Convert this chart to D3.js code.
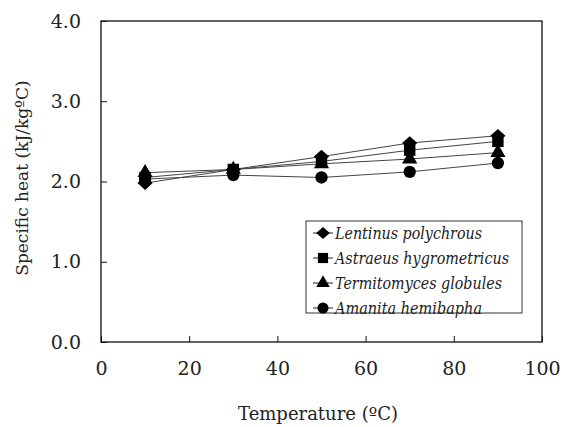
<!DOCTYPE html>
<html lang="en">
<head>
    <meta charset="UTF-8">
    <title>Specific heat vs temperature</title>
    <script src="https://d3js.org/d3.v7.min.js"></script>
    <style>
        html, body {
            margin: 0;
            background: #fff;
        }
        text {
            font-family: "DejaVu Serif", serif;
            fill: #222;
        }
    </style>
</head>
<body>
    <div id="vis"></div>
    <script>
        // data
        var temps = [10, 30, 50, 70, 90];
        var seriesNames = ["Lentinus polychrous", "Astraeus hygrometricus", "Termitomyces globules", "Amanita hemibapha"];
        var lentinus = [1.98, 2.15, 2.31, 2.48, 2.57];
        var astraeus = [2.05, 2.15, 2.25, 2.39, 2.50];
        var termitomyces = [2.11, 2.15, 2.22, 2.28, 2.36];
        var amanita = [2.03, 2.08, 2.05, 2.12, 2.23];
        var xTicks = [0, 20, 40, 60, 80, 100];
        var yTicks = [0, 1, 2, 3, 4];

        var seriesValues = [lentinus, astraeus, termitomyces, amanita];

        // flat diamond (wider than tall), as in the original
        var flatDiamond = {
            draw: function(ctx, size) {
                var h = Math.sqrt(size) * 0.62, w = h * 1.12;
                ctx.moveTo(0, -h);
                ctx.lineTo(w, 0);
                ctx.lineTo(0, h);
                ctx.lineTo(-w, 0);
                ctx.closePath();
            }
        };
        var symbols = [flatDiamond, d3.symbolSquare, d3.symbolTriangle, d3.symbolCircle];
        var symbolSizes = [120, 130, 100, 120];
        var legendWidths = [147, 174, 167, 147];

        var width = 563, height = 427;
        var margin = {top: 21, right: 21, bottom: 85, left: 101};

        var svg = d3.select("#vis").append("svg")
            .attr("width", width)
            .attr("height", height);

        var x = d3.scaleLinear().domain([0, 100]).range([margin.left, width - margin.right]);
        var y = d3.scaleLinear().domain([0, 4]).range([height - margin.bottom, margin.top]);

        // frame
        svg.append("rect")
            .attr("x", x(0)).attr("y", y(4))
            .attr("width", x(100) - x(0)).attr("height", y(0) - y(4))
            .attr("fill", "none").attr("stroke", "#111").attr("stroke-width", 1.3);

        // axes with inward ticks
        var xAxis = d3.axisBottom(x).tickValues(xTicks).tickSizeInner(-6).tickSizeOuter(0)
            .tickPadding(20).tickFormat(d3.format("d"));
        var yAxis = d3.axisLeft(y).tickValues(yTicks).tickSizeInner(-6).tickSizeOuter(0)
            .tickPadding(20).tickFormat(d3.format(".1f"));

        var gx = svg.append("g").attr("transform", "translate(0," + y(0) + ")").call(xAxis);
        var gy = svg.append("g").attr("transform", "translate(" + x(0) + ",0)").call(yAxis);
        [gx, gy].forEach(function(g) {
            g.attr("font-family", null);
            g.select(".domain").remove();
            g.selectAll(".tick line").attr("stroke", "#111").attr("stroke-width", 1);
            g.selectAll(".tick text")
                .style("font-size", "19px").attr("fill", "#222");
        });

        // lines and markers
        var line = d3.line()
            .x(function(d, i) { return x(temps[i]); })
            .y(function(d) { return y(d); });

        seriesValues.forEach(function(vals, s) {
            svg.append("path")
                .datum(vals)
                .attr("d", line)
                .attr("fill", "none")
                .attr("stroke", "#444")
                .attr("stroke-width", 1);
        });

        seriesValues.forEach(function(vals, s) {
            var sym = d3.symbol().type(symbols[s]).size(symbolSizes[s]);
            svg.selectAll(".m" + s)
                .data(vals)
                .enter().append("path")
                .attr("class", "m" + s)
                .attr("d", sym)
                .attr("transform", function(d, i) {
                    return "translate(" + x(temps[i]) + "," + y(d) + ")";
                })
                .attr("fill", "#000");
        });

        // legend
        var lg = svg.append("g").attr("transform", "translate(306,221)");
        lg.append("rect")
            .attr("width", 216).attr("height", 92)
            .attr("fill", "#fff").attr("stroke", "#333").attr("stroke-width", 1);

        seriesNames.forEach(function(name, s) {
            var ly = 12 + s * 25;
            lg.append("line")
                .attr("x1", 7).attr("x2", 27).attr("y1", ly).attr("y2", ly)
                .attr("stroke", "#222").attr("stroke-width", 1);
            lg.append("path")
                .attr("d", d3.symbol().type(symbols[s]).size(symbolSizes[s] * 0.8))
                .attr("transform", "translate(17," + ly + ")")
                .attr("fill", "#000");
            lg.append("text")
                .attr("x", 29).attr("y", ly)
                .attr("dy", "0.35em")
                .attr("textLength", legendWidths[s])
                .attr("lengthAdjust", "spacingAndGlyphs")
                .style("font-size", "17px")
                .style("font-style", "italic")
                .text(name);
        });

        // axis titles
        svg.append("text")
            .attr("x", 318)
            .attr("y", 420)
            .attr("text-anchor", "middle")
            .style("font-size", "18px")
            .text("Temperature (\u00baC)");

        svg.append("text")
            .attr("transform", "translate(28,178) rotate(-90)")
            .attr("text-anchor", "middle")
            .style("font-size", "17px")
            .text("Specific heat (kJ/kg\u00baC)");
    </script>
</body>
</html>
